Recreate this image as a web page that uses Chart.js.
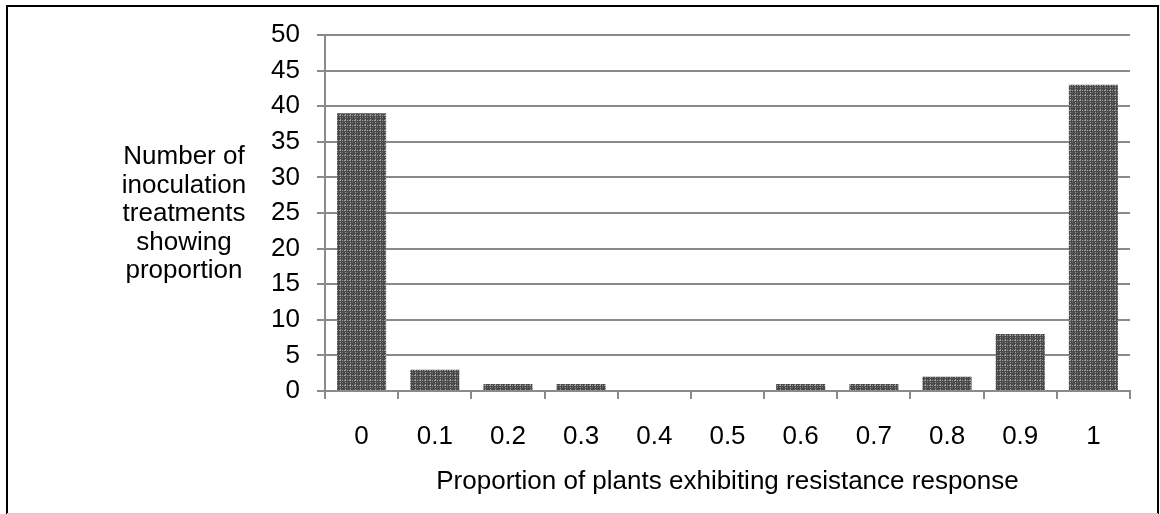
<!DOCTYPE html>
<html>
<head>
<meta charset="utf-8">
<script src="https://cdn.jsdelivr.net/npm/chart.js@4"></script>
<style>
  html, body { margin: 0; padding: 0; background: #fff; }
  #wrap { position: relative; width: 1160px; height: 514px; }
</style>
</head>
<body>
<div id="wrap"><canvas id="c" width="1160" height="514"></canvas></div>
<script>
const categories = ['0', '0.1', '0.2', '0.3', '0.4', '0.5', '0.6', '0.7', '0.8', '0.9', '1'];
const counts = [39, 3, 1, 1, 0, 0, 1, 1, 2, 8, 43];
const yTitleLines = ['Number of', 'inoculation', 'treatments', 'showing', 'proportion'];
const xTitle = 'Proportion of plants exhibiting resistance response';

const FONT = "'Liberation Sans', Arial, sans-serif";
const FS = 26;
const GRID = '#8a8a8a';

function makePattern() {
  const p = document.createElement('canvas');
  p.width = 5; p.height = 5;
  const g = p.getContext('2d');
  g.fillStyle = '#4a4a4a';
  g.fillRect(0, 0, 5, 5);
  g.fillStyle = '#9e9e9e';
  for (let i = 0; i < 5; i += 2) { g.fillRect(i, 0, 1, 1); g.fillRect(0, i, 1, 1); }
  g.fillStyle = '#6e6e6e';
  g.fillRect(2, 2, 1, 1);
  return g.createPattern(p, 'repeat');
}

const frameAndTitle = {
  id: 'frameAndTitle',
  beforeDraw(chart) {
    const ctx = chart.ctx;
    ctx.save();
    ctx.fillStyle = '#fff';
    ctx.fillRect(0, 0, chart.width, chart.height);
    ctx.restore();
  },
  afterDraw(chart) {
    const ctx = chart.ctx;
    ctx.save();
    ctx.strokeStyle = '#000';
    ctx.lineWidth = 2;
    ctx.beginPath();
    ctx.moveTo(7, 514); ctx.lineTo(7, 6); ctx.lineTo(1158, 6); ctx.lineTo(1158, 514);
    ctx.stroke();
    ctx.strokeStyle = '#cfcfcf';
    ctx.lineWidth = 1;
    ctx.beginPath();
    ctx.moveTo(7, 513.5); ctx.lineTo(1158, 513.5);
    ctx.stroke();
    ctx.fillStyle = '#000';
    ctx.font = FS + 'px ' + FONT;
    ctx.textAlign = 'center';
    ctx.textBaseline = 'middle';
    yTitleLines.forEach((t, i) => ctx.fillText(t, 184, 157 + i * 28.5));
    ctx.restore();
  }
};

const ctx = document.getElementById('c').getContext('2d');
new Chart(ctx, {
  type: 'bar',
  data: {
    labels: categories,
    datasets: [{
      data: counts,
      backgroundColor: makePattern(),
      borderWidth: 0,
      categoryPercentage: 1.0,
      barPercentage: 0.67
    }]
  },
  options: {
    responsive: false,
    animation: false,
    devicePixelRatio: 1,
    layout: { padding: { left: 0, right: 30, top: 35, bottom: 0 } },
    plugins: { legend: { display: false }, tooltip: { enabled: false } },
    scales: {
      x: {
        afterFit(scale) { scale.height = 123; },
        grid: { drawOnChartArea: false, drawTicks: true, tickLength: 8, color: GRID, lineWidth: 2, offset: true },
        border: { color: GRID, width: 2 },
        ticks: { color: '#000', font: { family: FONT, size: FS }, padding: 22, maxRotation: 0 },
        title: { display: true, text: xTitle, color: '#000', font: { family: FONT, size: FS }, padding: { top: 10, bottom: 17 } }
      },
      y: {
        min: 0, max: 50,
        afterFit(scale) { scale.width = 325; },
        grid: { color: GRID, lineWidth: 2, tickLength: 8, drawTicks: true },
        border: { color: GRID, width: 2 },
        ticks: { stepSize: 5, color: '#000', font: { family: FONT, size: FS }, padding: 17 }
      }
    }
  },
  plugins: [frameAndTitle]
});
</script>
</body>
</html>
